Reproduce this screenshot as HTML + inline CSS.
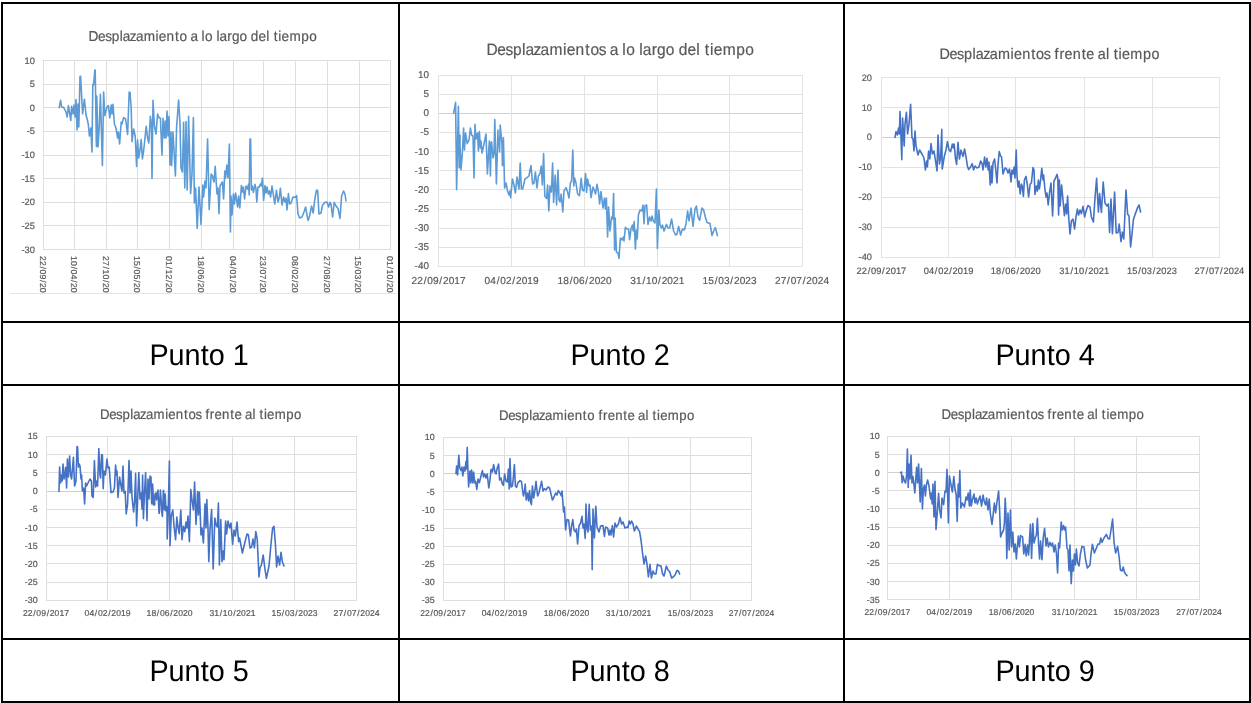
<!DOCTYPE html>
<html><head><meta charset="utf-8"><title>Desplazamientos</title>
<style>
html,body{margin:0;padding:0;background:#fff;}
body{width:1251px;height:703px;overflow:hidden;font-family:"Liberation Sans",sans-serif;}
svg{display:block;font-family:"Liberation Sans",sans-serif;text-rendering:geometricPrecision;}
.t{fill:#595959;stroke:#595959;stroke-width:0.2px;}
</style></head><body>
<svg width="1251" height="703" viewBox="0 0 1251 703">
<rect width="1251" height="703" fill="#fff"/>
<defs><clipPath id="c1"><rect x="4" y="4" width="393" height="289"/></clipPath><filter id="bl" filterUnits="userSpaceOnUse" x="0" y="0" width="1251" height="703"><feGaussianBlur stdDeviation="0.1"/></filter></defs>
<g filter="url(#bl)">
<g fill="none" stroke-width="1"><path d="M43.0 60.5H391.0" stroke="#DEDEDE"/><path d="M43.0 84.5H391.0" stroke="#DEDEDE"/><path d="M43.0 107.5H391.0" stroke="#D0DFF1"/><path d="M43.0 131.5H391.0" stroke="#DEDEDE"/><path d="M43.0 155.5H391.0" stroke="#DEDEDE"/><path d="M43.0 178.5H391.0" stroke="#DEDEDE"/><path d="M43.0 202.5H391.0" stroke="#DEDEDE"/><path d="M43.0 225.5H391.0" stroke="#DEDEDE"/><path d="M43.0 249.5H391.0" stroke="#DEDEDE"/><path d="M43.5 60.0V250.0" stroke="#DEDEDE"/><path d="M74.5 60.0V250.0" stroke="#DEDEDE"/><path d="M106.5 60.0V250.0" stroke="#DEDEDE"/><path d="M137.5 60.0V250.0" stroke="#DEDEDE"/><path d="M169.5 60.0V250.0" stroke="#DEDEDE"/><path d="M201.5 60.0V250.0" stroke="#DEDEDE"/><path d="M233.5 60.0V250.0" stroke="#DEDEDE"/><path d="M263.5 60.0V250.0" stroke="#DEDEDE"/><path d="M295.5 60.0V250.0" stroke="#DEDEDE"/><path d="M327.5 60.0V250.0" stroke="#DEDEDE"/><path d="M359.5 60.0V250.0" stroke="#DEDEDE"/><path d="M390.5 60.0V250.0" stroke="#DEDEDE"/></g>
<g class="t"><text transform="translate(0 63.60) scale(1 1.0)" x="24.57 29.81" y="0" font-size="9.30">10</text><text transform="translate(0 87.22) scale(1 1.0)" x="29.81" y="0" font-size="9.30">5</text><text transform="translate(0 110.84) scale(1 1.0)" x="29.81" y="0" font-size="9.30">0</text><text transform="translate(0 134.46) scale(1 1.0)" x="26.64 29.81" y="0" font-size="9.30">-5</text><text transform="translate(0 158.08) scale(1 1.0)" x="21.41 24.57 29.81" y="0" font-size="9.30">-10</text><text transform="translate(0 181.70) scale(1 1.0)" x="21.41 24.57 29.81" y="0" font-size="9.30">-15</text><text transform="translate(0 205.32) scale(1 1.0)" x="21.41 24.57 29.81" y="0" font-size="9.30">-20</text><text transform="translate(0 228.94) scale(1 1.0)" x="21.41 24.57 29.81" y="0" font-size="9.30">-25</text><text transform="translate(0 252.56) scale(1 1.0)" x="21.41 24.57 29.81" y="0" font-size="9.30">-30</text></g>
<g class="t" clip-path="url(#c1)"><g transform="translate(39.9 256.1) rotate(90)"><text transform="translate(0 0.00) scale(1 1.0)" x="0.03 4.90 10.39 13.47 18.34 23.83 26.91 31.78 36.65 41.51" y="0" font-size="8.64">22/09/2017</text></g><g transform="translate(71.1 256.1) rotate(90)"><text transform="translate(0 0.00) scale(1 1.0)" x="0.03 4.90 10.39 13.47 18.34 23.83 26.91 31.78 36.65 41.51" y="0" font-size="8.64">10/04/2018</text></g><g transform="translate(102.7 256.1) rotate(90)"><text transform="translate(0 0.00) scale(1 1.0)" x="0.03 4.90 10.39 13.47 18.34 23.83 26.91 31.78 36.65 41.51" y="0" font-size="8.64">27/10/2018</text></g><g transform="translate(134.1 256.1) rotate(90)"><text transform="translate(0 0.00) scale(1 1.0)" x="0.03 4.90 10.39 13.47 18.34 23.83 26.91 31.78 36.65 41.51" y="0" font-size="8.64">15/05/2019</text></g><g transform="translate(165.9 256.1) rotate(90)"><text transform="translate(0 0.00) scale(1 1.0)" x="0.03 4.90 10.39 13.47 18.34 23.83 26.91 31.78 36.65 41.51" y="0" font-size="8.64">01/12/2019</text></g><g transform="translate(197.7 256.1) rotate(90)"><text transform="translate(0 0.00) scale(1 1.0)" x="0.03 4.90 10.39 13.47 18.34 23.83 26.91 31.78 36.65 41.51" y="0" font-size="8.64">18/06/2020</text></g><g transform="translate(229.8 256.1) rotate(90)"><text transform="translate(0 0.00) scale(1 1.0)" x="0.03 4.90 10.39 13.47 18.34 23.83 26.91 31.78 36.65 41.51" y="0" font-size="8.64">04/01/2021</text></g><g transform="translate(260.0 256.1) rotate(90)"><text transform="translate(0 0.00) scale(1 1.0)" x="0.03 4.90 10.39 13.47 18.34 23.83 26.91 31.78 36.65 41.51" y="0" font-size="8.64">23/07/2021</text></g><g transform="translate(291.9 256.1) rotate(90)"><text transform="translate(0 0.00) scale(1 1.0)" x="0.03 4.90 10.39 13.47 18.34 23.83 26.91 31.78 36.65 41.51" y="0" font-size="8.64">08/02/2022</text></g><g transform="translate(323.7 256.1) rotate(90)"><text transform="translate(0 0.00) scale(1 1.0)" x="0.03 4.90 10.39 13.47 18.34 23.83 26.91 31.78 36.65 41.51" y="0" font-size="8.64">27/08/2022</text></g><g transform="translate(355.4 256.1) rotate(90)"><text transform="translate(0 0.00) scale(1 1.0)" x="0.03 4.90 10.39 13.47 18.34 23.83 26.91 31.78 36.65 41.51" y="0" font-size="8.64">15/03/2023</text></g><g transform="translate(386.9 256.1) rotate(90)"><text transform="translate(0 0.00) scale(1 1.0)" x="0.03 4.90 10.39 13.47 18.34 23.83 26.91 31.78 36.65 41.51" y="0" font-size="8.64">01/10/2023</text></g></g>
<path d="M10.2 293.5H396.7" stroke="#DEDEDE" stroke-width="0.8" fill="none"/>
<g class="t"><text transform="translate(0 41.00) scale(1 1.06)" x="88.53 98.06 105.16 111.69 119.66 122.73 129.72 135.94 143.71 155.62 158.84 166.57 174.95 179.57 187.15 190.58 197.80 201.61 205.05 212.63 216.45 219.52 227.29 231.97 239.51 247.09 250.87 258.59 266.35 269.41 273.65 278.28 281.50 289.42 301.30 309.24" y="0" font-size="13.59">Desplazamiento a lo largo del tiempo</text></g>
<path d="M59.2 107.6 60.6 100.4 61.6 107.0 63.6 107.4 66.0 112.0 67.2 117.0 68.4 105.6 70.8 120.4 71.6 106.4 73.2 114.0 74.0 105.0 75.2 117.0 76.0 99.6 77.0 130.0 78.0 104.0 78.8 127.0 80.0 76.4 80.6 76.4 82.6 114.0 84.4 99.2 86.0 115.0 87.4 120.0 88.4 125.0 89.4 136.0 90.8 128.0 92.0 152.0 92.0 152.0 92.8 84.4 93.6 85.0 94.8 70.0 95.2 70.0 96.4 146.4 96.8 96.0 98.0 147.0 99.2 128.0 100.4 94.4 102.4 165.6 103.6 92.0 104.8 115.6 107.0 107.0 108.4 105.6 109.8 118.0 111.2 105.0 112.0 114.0 113.0 104.4 114.4 124.0 116.0 128.0 117.6 138.0 118.4 132.0 119.6 144.0 121.2 122.0 122.0 124.0 123.6 117.6 125.6 119.0 127.6 134.4 129.2 92.0 130.0 92.4 131.2 108.0 132.0 141.6 133.6 129.0 135.2 136.0 136.6 166.4 137.6 140.0 138.6 158.0 140.0 150.0 141.2 139.6 142.4 159.0 143.6 151.0 144.8 140.0 146.2 126.4 147.6 138.0 148.8 143.0 150.4 116.4 151.4 124.0 152.0 178.4 153.0 100.4 154.4 126.0 156.0 134.0 157.6 114.0 159.2 118.0 160.4 118.0 162.0 155.0 163.0 118.4 164.4 138.0 165.2 121.0 166.0 138.0 167.0 111.0 168.0 136.0 169.0 116.4 170.0 165.0 171.0 132.0 171.6 165.6 173.0 132.0 175.4 176.0 176.6 127.0 178.6 100.0 180.0 124.0 181.0 168.0 182.4 172.0 183.6 122.4 184.8 188.0 186.0 121.6 187.2 190.0 188.6 116.4 190.6 193.6 192.0 174.0 193.4 117.6 194.4 203.0 195.6 188.0 197.2 228.4 199.0 187.0 201.0 224.4 202.8 185.0 203.6 197.0 205.0 181.0 206.0 188.0 207.6 139.0 209.2 209.6 211.2 174.0 212.4 176.0 214.0 182.0 215.2 166.4 217.0 194.0 218.0 188.0 219.0 213.6 220.0 186.0 222.4 182.0 223.6 199.0 224.8 171.0 225.6 178.0 226.8 165.0 228.0 178.0 229.4 144.0 230.4 232.0 231.0 196.0 232.0 215.0 233.4 194.0 234.4 204.0 235.6 193.0 237.6 207.0 238.6 196.0 239.8 208.0 241.4 185.6 242.6 192.0 243.4 187.0 244.6 199.0 246.0 186.0 247.6 189.0 248.6 184.0 249.2 195.0 250.0 139.0 250.6 139.0 251.4 190.0 252.4 186.0 253.4 192.4 255.0 184.4 256.0 189.0 256.8 202.0 258.0 187.0 259.4 187.0 260.4 184.0 261.4 186.0 262.4 178.0 263.6 200.4 265.0 185.6 266.0 193.0 267.0 187.0 268.4 194.0 269.4 191.0 270.6 197.0 272.0 186.0 273.6 196.4 274.8 204.0 276.4 190.4 278.0 202.0 279.2 198.0 280.4 188.4 282.0 205.0 283.6 197.0 285.0 202.0 286.0 198.0 287.0 210.0 288.4 193.6 289.6 204.0 291.0 203.0 293.0 197.0 295.0 197.6 296.6 195.6 298.0 214.0 299.6 218.0 302.0 217.0 304.0 212.0 305.6 207.0 308.0 220.4 309.6 216.0 311.6 206.0 313.2 213.0 315.0 198.0 316.4 190.4 317.6 190.4 319.0 214.0 321.0 213.0 322.6 205.0 325.0 202.4 327.0 202.0 328.6 207.0 330.0 202.4 331.0 204.0 332.6 217.0 334.2 202.4 336.0 206.0 338.0 208.4 340.0 218.4 341.6 196.0 343.6 191.0 345.0 194.0 346.0 201.0" fill="none" stroke="#5B9BD5" stroke-width="1.6" stroke-linejoin="round" stroke-linecap="round"/>
<g fill="none" stroke-width="1"><path d="M438.0 75.5H803.0" stroke="#E3E3E3"/><path d="M438.0 94.5H803.0" stroke="#E3E3E3"/><path d="M438.0 113.5H803.0" stroke="#D0D0D0"/><path d="M438.0 132.5H803.0" stroke="#E3E3E3"/><path d="M438.0 151.5H803.0" stroke="#E3E3E3"/><path d="M438.0 170.5H803.0" stroke="#E3E3E3"/><path d="M438.0 189.5H803.0" stroke="#E3E3E3"/><path d="M438.0 209.5H803.0" stroke="#E3E3E3"/><path d="M438.0 228.5H803.0" stroke="#E3E3E3"/><path d="M438.0 247.5H803.0" stroke="#E3E3E3"/><path d="M438.0 266.5H803.0" stroke="#E3E3E3"/><path d="M438.5 75.0V267.0" stroke="#E3E3E3"/><path d="M511.5 75.0V267.0" stroke="#E3E3E3"/><path d="M584.5 75.0V267.0" stroke="#E3E3E3"/><path d="M657.5 75.0V267.0" stroke="#E3E3E3"/><path d="M729.5 75.0V267.0" stroke="#E3E3E3"/><path d="M802.5 75.0V267.0" stroke="#E3E3E3"/></g>
<g class="t"><text transform="translate(0 78.10) scale(1 1.0)" x="417.92 423.50" y="0" font-size="9.90">10</text><text transform="translate(0 97.23) scale(1 1.0)" x="423.50" y="0" font-size="9.90">5</text><text transform="translate(0 116.36) scale(1 1.0)" x="423.50" y="0" font-size="9.90">0</text><text transform="translate(0 135.49) scale(1 1.0)" x="420.13 423.50" y="0" font-size="9.90">-5</text><text transform="translate(0 154.62) scale(1 1.0)" x="414.55 417.92 423.50" y="0" font-size="9.90">-10</text><text transform="translate(0 173.75) scale(1 1.0)" x="414.55 417.92 423.50" y="0" font-size="9.90">-15</text><text transform="translate(0 192.88) scale(1 1.0)" x="414.55 417.92 423.50" y="0" font-size="9.90">-20</text><text transform="translate(0 212.01) scale(1 1.0)" x="414.55 417.92 423.50" y="0" font-size="9.90">-25</text><text transform="translate(0 231.14) scale(1 1.0)" x="414.55 417.92 423.50" y="0" font-size="9.90">-30</text><text transform="translate(0 250.27) scale(1 1.0)" x="414.55 417.92 423.50" y="0" font-size="9.90">-35</text><text transform="translate(0 269.40) scale(1 1.0)" x="414.55 417.92 423.50" y="0" font-size="9.90">-40</text></g>
<g class="t"><text transform="translate(0 284.40) scale(1 1.0)" x="411.59 417.27 423.68 427.27 432.96 439.36 442.96 448.64 454.32 460.00" y="0" font-size="10.08">22/09/2017</text><text transform="translate(0 284.40) scale(1 1.0)" x="484.59 490.27 496.68 500.27 505.96 512.36 515.96 521.64 527.32 533.00" y="0" font-size="10.08">04/02/2019</text><text transform="translate(0 284.40) scale(1 1.0)" x="557.59 563.27 569.68 573.27 578.96 585.36 588.96 594.64 600.32 606.00" y="0" font-size="10.08">18/06/2020</text><text transform="translate(0 284.40) scale(1 1.0)" x="630.29 635.97 642.38 645.97 651.66 658.06 661.66 667.34 673.02 678.70" y="0" font-size="10.08">31/10/2021</text><text transform="translate(0 284.40) scale(1 1.0)" x="702.59 708.27 714.68 718.27 723.96 730.36 733.96 739.64 745.32 751.00" y="0" font-size="10.08">15/03/2023</text><text transform="translate(0 284.40) scale(1 1.0)" x="774.99 780.67 787.08 790.67 796.36 802.76 806.36 812.04 817.72 823.40" y="0" font-size="10.08">27/07/2024</text></g>
<g class="t"><text transform="translate(0 54.70) scale(1 1.06)" x="486.42 497.31 505.42 512.88 521.98 525.50 533.48 540.58 549.46 563.07 566.75 575.58 585.16 590.43 598.79 605.84 609.76 618.00 622.36 626.29 634.95 639.31 642.82 651.70 657.04 665.65 674.31 678.63 687.46 696.32 699.82 704.66 709.95 713.63 722.67 736.25 745.32" y="0" font-size="15.53">Desplazamientos a lo largo del tiempo</text></g>
<path d="M453.6 113.4 455.6 102.4 456.6 189.6 457.6 144.0 458.4 106.4 459.2 168.0 460.0 135.0 460.0 146.0 461.0 170.0 462.4 152.0 463.6 128.0 464.4 150.0 465.6 133.0 467.2 143.6 469.0 140.0 470.4 128.0 471.6 135.0 473.0 136.0 474.0 178.0 475.0 124.4 476.0 139.0 477.6 133.0 478.4 151.0 479.4 131.6 480.4 148.0 481.0 141.0 482.0 153.0 483.6 146.0 486.0 134.0 487.4 174.0 489.0 146.0 489.4 141.0 490.4 176.0 491.2 142.0 491.6 142.0 493.0 158.0 494.0 154.0 494.8 119.6 496.4 184.0 498.0 130.0 498.0 144.0 498.8 138.0 499.6 152.0 500.2 125.0 502.0 144.0 502.4 165.6 503.4 137.6 504.6 188.0 506.0 183.0 507.6 191.0 509.0 195.0 510.0 191.0 510.6 197.6 512.4 179.0 514.0 185.0 515.4 193.0 517.0 177.0 518.0 183.0 519.0 189.0 520.2 163.0 521.4 189.0 522.6 189.0 525.0 179.0 527.0 177.6 529.0 176.0 530.0 170.0 531.0 165.6 532.6 184.0 534.0 183.0 535.4 172.0 537.0 188.0 538.4 176.0 540.0 173.6 541.2 166.0 542.4 185.0 543.6 153.6 544.8 196.0 546.6 198.4 547.6 185.0 548.8 211.0 550.0 186.0 551.4 192.0 552.6 163.0 553.6 202.4 555.2 175.0 556.6 205.0 558.0 170.0 559.0 200.0 560.0 202.0 561.2 194.0 562.8 212.0 564.0 191.0 566.0 187.6 567.6 192.0 569.0 198.0 570.4 183.0 571.6 181.0 572.8 150.0 573.8 186.0 574.6 178.0 576.0 183.0 577.6 194.0 579.4 195.6 581.2 178.4 582.4 190.0 584.0 191.0 585.6 173.6 586.6 192.4 587.6 179.0 589.0 186.0 590.0 185.0 591.0 197.6 593.0 187.0 595.6 194.0 597.0 184.4 598.6 193.0 599.6 204.0 601.0 191.6 603.0 208.0 604.4 198.0 605.4 209.0 606.4 198.0 607.6 237.0 608.6 207.0 610.0 231.0 611.6 217.0 612.6 219.0 613.6 193.6 614.6 250.0 615.2 218.0 616.4 252.0 618.0 253.0 619.0 258.4 620.4 238.0 622.0 240.0 623.4 237.0 624.0 241.0 625.4 227.4 627.0 229.0 628.6 229.0 629.6 239.6 631.0 229.0 632.4 225.0 633.2 231.0 634.2 221.6 635.4 249.0 636.4 230.0 637.2 239.0 638.4 215.0 640.0 210.0 642.0 211.0 643.0 205.0 644.0 223.6 645.0 206.0 646.6 205.0 648.0 224.4 649.6 217.0 651.0 221.0 652.0 216.0 653.4 221.0 655.0 223.0 656.4 189.0 657.4 248.4 658.8 210.0 660.0 225.0 661.4 228.0 662.4 225.0 664.0 231.0 666.4 224.4 668.0 228.0 669.6 228.0 671.6 219.0 673.6 231.0 675.6 235.0 677.0 234.0 678.6 226.4 680.6 235.0 682.4 229.0 684.4 230.0 686.0 224.0 687.6 211.0 689.0 221.0 691.0 208.0 693.0 226.4 695.0 209.0 696.4 206.0 698.0 217.0 699.6 220.4 702.0 208.0 703.6 210.0 705.6 218.0 707.0 222.4 710.0 223.6 712.0 235.6 713.6 231.0 715.4 227.6 717.4 235.6" fill="none" stroke="#5B9BD5" stroke-width="1.6" stroke-linejoin="round" stroke-linecap="round"/>
<g fill="none" stroke-width="1"><path d="M881.0 77.5H1220.0" stroke="#E3E3E3"/><path d="M881.0 107.5H1220.0" stroke="#E3E3E3"/><path d="M881.0 137.5H1220.0" stroke="#D0D0D0"/><path d="M881.0 167.5H1220.0" stroke="#E3E3E3"/><path d="M881.0 197.5H1220.0" stroke="#E3E3E3"/><path d="M881.0 227.5H1220.0" stroke="#E3E3E3"/><path d="M881.0 257.5H1220.0" stroke="#E3E3E3"/><path d="M881.5 77.0V258.0" stroke="#E3E3E3"/><path d="M948.5 77.0V258.0" stroke="#E3E3E3"/><path d="M1015.5 77.0V258.0" stroke="#E3E3E3"/><path d="M1084.5 77.0V258.0" stroke="#E3E3E3"/><path d="M1152.5 77.0V258.0" stroke="#E3E3E3"/><path d="M1219.5 77.0V258.0" stroke="#E3E3E3"/></g>
<g class="t"><text transform="translate(0 80.60) scale(1 1.0)" x="861.68 866.86" y="0" font-size="9.20">20</text><text transform="translate(0 110.53) scale(1 1.0)" x="861.68 866.86" y="0" font-size="9.20">10</text><text transform="translate(0 140.46) scale(1 1.0)" x="866.86" y="0" font-size="9.20">0</text><text transform="translate(0 170.39) scale(1 1.0)" x="858.55 861.68 866.86" y="0" font-size="9.20">-10</text><text transform="translate(0 200.32) scale(1 1.0)" x="858.55 861.68 866.86" y="0" font-size="9.20">-20</text><text transform="translate(0 230.25) scale(1 1.0)" x="858.55 861.68 866.86" y="0" font-size="9.20">-30</text><text transform="translate(0 260.18) scale(1 1.0)" x="858.55 861.68 866.86" y="0" font-size="9.20">-40</text></g>
<g class="t"><text transform="translate(0 273.60) scale(1 1.0)" x="856.52 861.75 867.65 870.97 876.20 882.10 885.42 890.65 895.88 901.11" y="0" font-size="9.29">22/09/2017</text><text transform="translate(0 273.60) scale(1 1.0)" x="923.72 928.95 934.85 938.17 943.40 949.30 952.62 957.85 963.08 968.31" y="0" font-size="9.29">04/02/2019</text><text transform="translate(0 273.60) scale(1 1.0)" x="990.82 996.05 1001.95 1005.27 1010.50 1016.40 1019.72 1024.95 1030.18 1035.41" y="0" font-size="9.29">18/06/2020</text><text transform="translate(0 273.60) scale(1 1.0)" x="1059.32 1064.55 1070.45 1073.77 1079.00 1084.90 1088.22 1093.45 1098.68 1103.91" y="0" font-size="9.29">31/10/2021</text><text transform="translate(0 273.60) scale(1 1.0)" x="1127.12 1132.35 1138.25 1141.57 1146.80 1152.70 1156.02 1161.25 1166.48 1171.71" y="0" font-size="9.29">15/03/2023</text><text transform="translate(0 273.60) scale(1 1.0)" x="1194.52 1199.75 1205.65 1208.97 1214.20 1220.10 1223.42 1228.65 1233.88 1239.11" y="0" font-size="9.29">27/07/2024</text></g>
<g class="t"><text transform="translate(0 59.40) scale(1 1.06)" x="939.44 949.55 957.08 964.02 972.46 975.73 983.14 989.73 997.98 1010.62 1014.04 1022.23 1031.13 1036.03 1043.79 1050.34 1054.59 1059.43 1064.61 1072.81 1081.70 1086.37 1094.18 1097.82 1105.90 1109.15 1113.64 1118.56 1121.98 1130.37 1142.98 1151.41" y="0" font-size="14.42">Desplazamientos frente al tiempo</text></g>
<path d="M895.0 137.4 896.0 131.6 897.4 135.0 898.6 128.0 899.4 134.0 900.0 111.6 901.8 159.6 902.6 118.0 904.2 146.0 905.0 124.0 906.4 112.4 907.6 134.0 909.0 124.0 910.6 104.4 912.0 138.0 913.0 139.0 914.0 151.0 915.0 131.0 916.0 146.0 918.0 155.0 919.6 150.0 922.0 154.0 924.0 158.0 925.4 170.0 926.6 161.0 927.4 161.0 927.4 167.0 928.6 151.0 929.8 159.0 931.0 143.6 932.4 154.0 934.0 151.0 935.4 160.0 937.0 171.0 938.0 135.0 939.4 164.0 940.6 158.0 941.8 129.4 942.2 169.0 944.4 156.0 946.0 150.0 947.4 141.6 949.0 150.0 950.6 151.6 952.4 144.0 953.4 148.0 954.2 144.0 955.4 158.0 956.6 164.4 958.0 142.4 959.4 159.0 961.0 150.0 963.0 156.4 964.6 149.0 966.2 158.0 967.4 166.0 968.6 169.6 970.6 167.0 972.2 163.6 973.6 170.0 975.0 166.0 977.0 168.0 979.0 167.0 980.6 161.0 982.2 164.0 983.0 170.0 984.6 157.0 985.8 167.0 987.0 158.4 988.2 170.0 989.0 162.0 990.2 185.0 991.4 166.0 992.0 183.0 993.0 163.0 994.6 159.0 995.8 170.0 997.0 183.0 998.0 165.0 999.2 151.6 1000.6 156.0 1001.6 157.0 1003.0 174.0 1005.0 168.0 1006.6 169.0 1008.0 173.0 1009.4 169.0 1010.2 174.0 1011.0 182.0 1012.0 170.0 1013.0 174.0 1014.2 167.0 1015.0 178.0 1016.2 150.0 1017.0 176.0 1018.0 187.0 1019.0 181.0 1020.2 194.0 1021.4 184.0 1022.2 186.0 1023.4 196.4 1024.4 180.0 1026.0 176.4 1027.4 185.0 1028.6 197.0 1030.2 184.0 1031.4 183.0 1033.0 167.6 1034.0 170.0 1035.0 194.4 1036.4 186.0 1037.4 191.0 1038.4 180.0 1039.4 189.0 1040.6 180.0 1041.8 168.4 1043.0 180.0 1043.6 175.0 1045.0 190.0 1046.0 197.0 1047.0 193.0 1048.2 205.0 1049.6 192.0 1051.0 183.0 1052.6 216.0 1054.0 181.0 1055.6 178.0 1057.0 174.4 1057.8 178.0 1058.6 215.0 1059.4 180.0 1060.2 206.0 1061.6 185.0 1063.0 200.0 1064.4 215.6 1065.6 204.0 1066.6 214.0 1067.6 196.0 1068.6 216.0 1070.0 234.0 1071.4 221.0 1073.0 219.0 1074.6 229.0 1076.0 217.0 1077.4 209.0 1078.6 215.0 1080.0 210.0 1081.4 213.6 1083.0 206.4 1084.6 217.0 1086.0 211.0 1088.0 205.6 1090.0 207.0 1091.4 217.0 1093.4 222.0 1095.0 198.0 1096.6 178.4 1098.4 212.0 1099.6 193.6 1101.4 212.4 1103.2 182.0 1105.0 203.0 1107.0 206.0 1108.4 204.0 1109.6 232.4 1111.0 199.0 1112.4 233.6 1114.6 192.0 1116.2 233.0 1118.0 232.4 1119.2 224.0 1121.0 241.6 1122.4 232.0 1123.8 239.0 1126.0 190.0 1127.6 214.0 1129.0 216.0 1130.6 247.0 1132.0 234.0 1133.4 219.6 1135.4 213.6 1137.6 207.6 1139.0 205.0 1140.6 212.0" fill="none" stroke="#4472C4" stroke-width="1.6" stroke-linejoin="round" stroke-linecap="round"/>
<g fill="none" stroke-width="1"><path d="M46.0 436.5H357.0" stroke="#DEDEDE"/><path d="M46.0 454.5H357.0" stroke="#DEDEDE"/><path d="M46.0 472.5H357.0" stroke="#DEDEDE"/><path d="M46.0 491.5H357.0" stroke="#D0D0D0"/><path d="M46.0 509.5H357.0" stroke="#DEDEDE"/><path d="M46.0 527.5H357.0" stroke="#DEDEDE"/><path d="M46.0 545.5H357.0" stroke="#DEDEDE"/><path d="M46.0 563.5H357.0" stroke="#DEDEDE"/><path d="M46.0 582.5H357.0" stroke="#DEDEDE"/><path d="M46.0 600.5H357.0" stroke="#DEDEDE"/><path d="M46.5 436.0V601.0" stroke="#DEDEDE"/><path d="M107.5 436.0V601.0" stroke="#DEDEDE"/><path d="M169.5 436.0V601.0" stroke="#DEDEDE"/><path d="M232.5 436.0V601.0" stroke="#DEDEDE"/><path d="M294.5 436.0V601.0" stroke="#DEDEDE"/><path d="M356.5 436.0V601.0" stroke="#DEDEDE"/></g>
<g class="t"><text transform="translate(0 439.40) scale(1 1.0)" x="27.80 32.81" y="0" font-size="8.90">15</text><text transform="translate(0 457.62) scale(1 1.0)" x="27.80 32.81" y="0" font-size="8.90">10</text><text transform="translate(0 475.84) scale(1 1.0)" x="32.81" y="0" font-size="8.90">5</text><text transform="translate(0 494.06) scale(1 1.0)" x="32.81" y="0" font-size="8.90">0</text><text transform="translate(0 512.28) scale(1 1.0)" x="29.79 32.81" y="0" font-size="8.90">-5</text><text transform="translate(0 530.50) scale(1 1.0)" x="24.77 27.80 32.81" y="0" font-size="8.90">-10</text><text transform="translate(0 548.72) scale(1 1.0)" x="24.77 27.80 32.81" y="0" font-size="8.90">-15</text><text transform="translate(0 566.94) scale(1 1.0)" x="24.77 27.80 32.81" y="0" font-size="8.90">-20</text><text transform="translate(0 585.16) scale(1 1.0)" x="24.77 27.80 32.81" y="0" font-size="8.90">-25</text><text transform="translate(0 603.38) scale(1 1.0)" x="24.77 27.80 32.81" y="0" font-size="8.90">-30</text></g>
<g class="t"><text transform="translate(0 616.00) scale(1 1.0)" x="22.95 27.80 33.26 36.34 41.18 46.65 49.72 54.57 59.42 64.27" y="0" font-size="8.61">22/09/2017</text><text transform="translate(0 616.00) scale(1 1.0)" x="84.55 89.40 94.86 97.94 102.78 108.25 111.32 116.17 121.02 125.87" y="0" font-size="8.61">04/02/2019</text><text transform="translate(0 616.00) scale(1 1.0)" x="146.55 151.40 156.86 159.94 164.78 170.25 173.32 178.17 183.02 187.87" y="0" font-size="8.61">18/06/2020</text><text transform="translate(0 616.00) scale(1 1.0)" x="209.45 214.30 219.76 222.84 227.68 233.15 236.22 241.07 245.92 250.77" y="0" font-size="8.61">31/10/2021</text><text transform="translate(0 616.00) scale(1 1.0)" x="271.55 276.40 281.86 284.94 289.78 295.25 298.32 303.17 308.02 312.87" y="0" font-size="8.61">15/03/2023</text><text transform="translate(0 616.00) scale(1 1.0)" x="333.55 338.40 343.86 346.94 351.78 357.25 360.32 365.17 370.02 374.87" y="0" font-size="8.61">27/07/2024</text></g>
<g class="t"><text transform="translate(0 419.40) scale(1 1.06)" x="99.97 109.23 116.12 122.47 130.21 133.20 139.98 146.02 153.57 165.14 168.27 175.78 183.92 188.41 195.51 201.51 205.40 209.84 214.58 222.08 230.23 234.50 241.65 244.99 252.38 255.35 259.47 263.98 267.10 274.79 286.33 294.05" y="0" font-size="13.20">Desplazamientos frente al tiempo</text></g>
<path d="M59.0 491.4 59.6 467.0 60.6 483.0 61.6 475.0 62.2 481.0 63.0 464.0 64.0 479.0 65.0 474.0 65.6 467.4 66.6 488.0 67.4 459.0 68.4 477.0 69.6 456.0 70.6 475.0 71.6 479.0 73.4 457.4 74.6 486.0 76.0 481.0 77.0 446.6 77.6 447.0 78.4 467.0 79.2 464.0 80.0 466.0 81.0 479.0 81.6 475.0 82.4 491.0 83.6 488.0 84.6 504.0 85.6 483.0 86.6 486.0 88.0 483.0 90.0 479.0 91.4 481.0 92.0 496.0 93.2 497.4 94.4 460.6 95.6 487.0 96.8 481.0 97.6 486.0 98.8 448.6 100.0 475.0 100.6 478.0 101.6 454.6 102.4 455.0 103.2 488.6 104.0 471.0 105.4 475.0 107.0 459.0 108.0 468.0 109.2 467.0 111.0 492.6 113.0 492.0 114.4 488.0 115.6 465.0 116.4 475.0 117.0 471.0 118.0 497.4 119.6 477.0 121.0 486.0 122.0 491.0 123.0 466.0 124.0 493.0 125.2 491.4 126.2 514.0 127.6 504.0 129.0 460.6 130.0 493.0 131.0 471.0 132.0 497.0 133.6 512.0 134.6 501.0 135.6 473.4 136.6 526.0 138.0 491.0 138.8 472.6 140.0 499.0 141.2 493.0 142.0 509.0 142.6 475.0 143.4 518.6 144.4 495.0 145.6 472.6 147.0 520.6 148.0 479.0 149.0 499.0 150.0 476.0 151.0 477.0 151.6 503.0 152.0 504.0 152.6 484.0 153.6 503.0 153.6 505.0 154.6 505.0 155.0 494.0 156.0 493.0 156.6 500.0 157.0 495.0 158.0 490.0 158.0 491.0 159.0 513.0 159.2 513.4 160.4 490.6 160.4 490.0 161.4 504.0 161.6 511.0 162.4 516.0 162.4 516.4 163.4 490.4 163.6 490.6 164.4 509.0 164.4 510.0 165.2 494.0 165.2 494.0 166.0 511.0 166.0 506.0 167.0 507.0 167.2 539.0 168.0 520.0 169.4 461.0 170.0 545.6 171.2 516.0 172.8 510.0 174.0 526.0 175.6 539.6 176.8 517.0 178.0 527.0 179.2 533.6 180.8 510.0 182.0 539.6 183.4 526.4 184.8 531.6 186.0 522.0 187.0 528.0 188.0 516.0 189.4 541.6 190.8 489.6 192.0 500.0 193.4 510.0 194.6 482.0 196.0 524.4 197.6 491.6 198.4 515.0 199.4 492.0 201.0 535.0 202.0 528.0 203.4 543.0 205.0 504.0 206.0 528.0 206.8 499.6 208.0 528.0 208.8 561.6 210.0 530.0 211.6 509.6 213.2 569.0 214.8 518.0 216.0 525.0 217.4 527.0 218.4 503.0 219.4 565.0 220.8 519.6 222.0 561.6 223.2 551.0 224.0 559.6 225.6 521.0 226.6 534.0 228.0 521.0 229.6 528.0 231.0 523.0 232.6 544.4 234.0 530.0 235.4 536.0 237.0 522.0 238.6 541.6 239.6 538.0 242.4 553.0 245.0 542.0 247.0 534.0 248.4 535.0 250.0 548.0 251.6 547.0 253.0 539.0 254.4 548.0 255.8 531.6 257.2 539.0 259.0 577.0 260.0 568.0 261.4 565.0 263.2 555.0 264.8 568.0 266.4 578.4 269.0 566.0 271.0 544.0 272.6 528.0 274.0 526.4 275.4 544.0 276.6 567.0 278.0 556.0 279.6 565.0 281.0 552.4 282.4 562.0 284.0 566.0" fill="none" stroke="#4472C4" stroke-width="1.6" stroke-linejoin="round" stroke-linecap="round"/>
<g fill="none" stroke-width="1"><path d="M443.0 437.5H752.0" stroke="#DEDEDE"/><path d="M443.0 455.5H752.0" stroke="#DEDEDE"/><path d="M443.0 473.5H752.0" stroke="#D0D0D0"/><path d="M443.0 491.5H752.0" stroke="#DEDEDE"/><path d="M443.0 509.5H752.0" stroke="#DEDEDE"/><path d="M443.0 528.5H752.0" stroke="#DEDEDE"/><path d="M443.0 546.5H752.0" stroke="#DEDEDE"/><path d="M443.0 564.5H752.0" stroke="#DEDEDE"/><path d="M443.0 582.5H752.0" stroke="#DEDEDE"/><path d="M443.0 600.5H752.0" stroke="#DEDEDE"/><path d="M443.5 437.0V601.0" stroke="#DEDEDE"/><path d="M504.5 437.0V601.0" stroke="#DEDEDE"/><path d="M566.5 437.0V601.0" stroke="#DEDEDE"/><path d="M628.5 437.0V601.0" stroke="#DEDEDE"/><path d="M690.5 437.0V601.0" stroke="#DEDEDE"/><path d="M751.5 437.0V601.0" stroke="#DEDEDE"/></g>
<g class="t"><text transform="translate(0 440.40) scale(1 1.0)" x="424.80 429.81" y="0" font-size="8.90">10</text><text transform="translate(0 458.52) scale(1 1.0)" x="429.81" y="0" font-size="8.90">5</text><text transform="translate(0 476.64) scale(1 1.0)" x="429.81" y="0" font-size="8.90">0</text><text transform="translate(0 494.76) scale(1 1.0)" x="426.79 429.81" y="0" font-size="8.90">-5</text><text transform="translate(0 512.88) scale(1 1.0)" x="421.77 424.80 429.81" y="0" font-size="8.90">-10</text><text transform="translate(0 531.00) scale(1 1.0)" x="421.77 424.80 429.81" y="0" font-size="8.90">-15</text><text transform="translate(0 549.12) scale(1 1.0)" x="421.77 424.80 429.81" y="0" font-size="8.90">-20</text><text transform="translate(0 567.24) scale(1 1.0)" x="421.77 424.80 429.81" y="0" font-size="8.90">-25</text><text transform="translate(0 585.36) scale(1 1.0)" x="421.77 424.80 429.81" y="0" font-size="8.90">-30</text><text transform="translate(0 603.48) scale(1 1.0)" x="421.77 424.80 429.81" y="0" font-size="8.90">-35</text></g>
<g class="t"><text transform="translate(0 616.00) scale(1 1.0)" x="420.25 425.04 430.43 433.46 438.25 443.64 446.67 451.46 456.24 461.02" y="0" font-size="8.49">22/09/2017</text><text transform="translate(0 616.00) scale(1 1.0)" x="481.65 486.44 491.83 494.86 499.65 505.04 508.07 512.86 517.64 522.42" y="0" font-size="8.49">04/02/2019</text><text transform="translate(0 616.00) scale(1 1.0)" x="543.65 548.44 553.83 556.86 561.65 567.04 570.07 574.86 579.64 584.42" y="0" font-size="8.49">18/06/2020</text><text transform="translate(0 616.00) scale(1 1.0)" x="605.85 610.64 616.03 619.06 623.85 629.24 632.27 637.06 641.84 646.62" y="0" font-size="8.49">31/10/2021</text><text transform="translate(0 616.00) scale(1 1.0)" x="667.65 672.44 677.83 680.86 685.65 691.04 694.07 698.86 703.64 708.42" y="0" font-size="8.49">15/03/2023</text><text transform="translate(0 616.00) scale(1 1.0)" x="728.85 733.64 739.03 742.06 746.85 752.24 755.27 760.06 764.84 769.62" y="0" font-size="8.49">27/07/2024</text></g>
<g class="t"><text transform="translate(0 420.40) scale(1 1.06)" x="498.97 508.22 515.10 521.44 529.17 532.15 538.93 544.96 552.50 564.06 567.18 574.68 582.81 587.29 594.64 598.53 602.96 607.69 615.19 623.32 627.59 634.73 638.06 645.45 648.42 652.53 657.03 660.15 667.83 679.35 687.06" y="0" font-size="13.19">Desplazamiento frente al tiempo</text></g>
<path d="M456.0 473.6 456.6 466.0 457.6 475.0 458.8 455.4 459.8 468.0 461.0 470.6 462.0 467.0 462.8 476.0 464.0 467.0 465.0 471.0 466.0 461.4 466.6 469.0 467.2 447.4 468.0 471.0 468.6 487.0 470.0 471.0 470.8 483.0 471.6 470.0 472.8 483.0 473.6 472.0 474.8 483.0 475.6 481.4 476.8 489.4 478.0 479.0 479.4 482.6 481.0 476.0 482.4 470.6 483.6 477.0 484.8 474.0 486.0 478.0 487.2 474.0 488.8 488.0 490.0 480.0 491.0 469.4 492.4 472.0 493.6 464.6 495.0 472.0 496.0 474.0 497.4 467.4 498.6 464.0 499.6 480.0 501.0 478.0 502.0 483.0 503.4 485.4 504.6 474.0 506.0 481.0 507.4 482.0 508.4 469.0 509.2 489.0 510.0 458.6 511.0 487.0 512.4 486.0 513.2 479.0 514.4 464.6 515.4 486.0 516.6 487.4 518.0 482.6 520.0 480.6 521.4 481.4 522.4 489.0 523.4 496.0 524.4 492.0 525.2 484.0 526.2 500.0 527.6 493.0 528.6 501.0 529.6 490.6 530.6 502.0 531.4 504.6 532.4 486.0 533.6 498.0 535.0 490.0 536.0 481.4 537.6 496.0 539.0 493.0 540.0 488.0 541.6 481.4 543.0 491.0 544.4 488.6 546.0 490.0 548.0 487.0 549.6 488.0 551.0 494.0 552.4 500.0 554.0 497.0 555.6 493.0 557.0 495.0 558.4 490.6 560.0 493.0 561.4 496.0 562.0 491.0 563.6 512.0 564.4 507.0 565.6 530.0 567.0 519.6 568.6 520.0 570.4 536.0 571.6 526.0 572.8 519.6 574.0 530.0 575.6 532.0 576.4 529.0 577.6 544.0 579.0 526.0 580.6 523.0 582.0 516.4 583.0 528.0 584.0 524.0 585.2 538.4 586.0 504.0 587.0 528.0 588.0 532.0 589.2 504.4 590.4 530.0 591.6 526.0 592.2 569.6 593.0 509.0 594.4 538.0 595.8 506.4 597.0 527.0 599.0 532.0 600.6 526.0 603.0 525.6 604.4 536.4 605.6 527.0 607.6 528.0 609.0 535.0 610.0 530.0 611.0 535.0 612.4 525.6 613.6 537.0 615.0 523.0 616.4 527.0 618.4 524.0 620.0 517.6 621.6 524.0 623.0 522.0 625.0 528.0 627.0 527.0 628.0 527.6 629.2 521.0 630.4 524.0 631.6 521.0 633.0 524.0 634.4 531.0 636.4 526.0 638.0 529.0 639.6 531.6 641.0 540.0 642.4 552.0 644.0 564.0 645.6 556.0 647.0 564.0 648.4 577.0 650.0 564.4 651.4 578.0 653.0 571.0 654.4 574.0 656.0 574.0 657.4 564.4 659.0 565.6 661.0 566.0 662.6 574.0 664.0 576.0 666.4 566.0 668.0 570.0 669.6 571.6 671.6 578.0 673.2 577.0 675.0 575.0 677.0 570.4 678.4 571.0 679.6 574.0" fill="none" stroke="#4472C4" stroke-width="1.6" stroke-linejoin="round" stroke-linecap="round"/>
<g fill="none" stroke-width="1"><path d="M887.0 436.5H1200.0" stroke="#DEDEDE"/><path d="M887.0 454.5H1200.0" stroke="#DEDEDE"/><path d="M887.0 472.5H1200.0" stroke="#D0D0D0"/><path d="M887.0 490.5H1200.0" stroke="#DEDEDE"/><path d="M887.0 508.5H1200.0" stroke="#DEDEDE"/><path d="M887.0 527.5H1200.0" stroke="#DEDEDE"/><path d="M887.0 545.5H1200.0" stroke="#DEDEDE"/><path d="M887.0 563.5H1200.0" stroke="#DEDEDE"/><path d="M887.0 581.5H1200.0" stroke="#DEDEDE"/><path d="M887.0 599.5H1200.0" stroke="#DEDEDE"/><path d="M887.5 436.0V600.0" stroke="#DEDEDE"/><path d="M949.5 436.0V600.0" stroke="#DEDEDE"/><path d="M1011.5 436.0V600.0" stroke="#DEDEDE"/><path d="M1074.5 436.0V600.0" stroke="#DEDEDE"/><path d="M1136.5 436.0V600.0" stroke="#DEDEDE"/><path d="M1199.5 436.0V600.0" stroke="#DEDEDE"/></g>
<g class="t"><text transform="translate(0 439.40) scale(1 1.0)" x="869.80 874.81" y="0" font-size="8.90">10</text><text transform="translate(0 457.54) scale(1 1.0)" x="874.81" y="0" font-size="8.90">5</text><text transform="translate(0 475.68) scale(1 1.0)" x="874.81" y="0" font-size="8.90">0</text><text transform="translate(0 493.82) scale(1 1.0)" x="871.79 874.81" y="0" font-size="8.90">-5</text><text transform="translate(0 511.96) scale(1 1.0)" x="866.77 869.80 874.81" y="0" font-size="8.90">-10</text><text transform="translate(0 530.10) scale(1 1.0)" x="866.77 869.80 874.81" y="0" font-size="8.90">-15</text><text transform="translate(0 548.24) scale(1 1.0)" x="866.77 869.80 874.81" y="0" font-size="8.90">-20</text><text transform="translate(0 566.38) scale(1 1.0)" x="866.77 869.80 874.81" y="0" font-size="8.90">-25</text><text transform="translate(0 584.52) scale(1 1.0)" x="866.77 869.80 874.81" y="0" font-size="8.90">-30</text><text transform="translate(0 602.66) scale(1 1.0)" x="866.77 869.80 874.81" y="0" font-size="8.90">-35</text></g>
<g class="t"><text transform="translate(0 615.00) scale(1 1.0)" x="864.55 869.36 874.78 877.82 882.63 888.04 891.09 895.89 900.70 905.50" y="0" font-size="8.53">22/09/2017</text><text transform="translate(0 615.00) scale(1 1.0)" x="926.55 931.36 936.78 939.82 944.63 950.04 953.09 957.89 962.70 967.50" y="0" font-size="8.53">04/02/2019</text><text transform="translate(0 615.00) scale(1 1.0)" x="988.65 993.46 998.88 1001.92 1006.73 1012.14 1015.19 1019.99 1024.80 1029.60" y="0" font-size="8.53">18/06/2020</text><text transform="translate(0 615.00) scale(1 1.0)" x="1051.75 1056.56 1061.98 1065.02 1069.83 1075.24 1078.29 1083.09 1087.90 1092.70" y="0" font-size="8.53">31/10/2021</text><text transform="translate(0 615.00) scale(1 1.0)" x="1113.75 1118.56 1123.98 1127.02 1131.83 1137.24 1140.29 1145.09 1149.90 1154.70" y="0" font-size="8.53">15/03/2023</text><text transform="translate(0 615.00) scale(1 1.0)" x="1176.15 1180.96 1186.38 1189.42 1194.23 1199.64 1202.69 1207.49 1212.30 1217.10" y="0" font-size="8.53">27/07/2024</text></g>
<g class="t"><text transform="translate(0 419.40) scale(1 1.06)" x="941.56 950.87 957.80 964.18 971.95 974.96 981.77 987.84 995.43 1007.06 1010.21 1017.75 1025.94 1030.45 1037.59 1043.61 1047.52 1051.98 1056.74 1064.29 1072.47 1076.77 1083.95 1087.30 1094.74 1097.73 1101.86 1106.39 1109.53 1117.26 1128.86 1136.61" y="0" font-size="13.27">Desplazamientos frente al tiempo</text></g>
<path d="M900.6 472.6 901.4 472.0 902.2 482.6 903.0 476.0 904.4 481.0 905.6 483.0 906.6 475.0 907.4 449.0 908.2 487.4 909.0 464.0 910.0 479.0 911.0 455.4 912.0 483.0 913.0 476.6 914.0 485.0 914.8 493.0 915.8 479.0 916.6 467.4 917.6 483.0 918.6 464.0 919.4 483.0 920.2 502.0 921.4 468.6 922.4 509.0 923.4 489.0 924.4 485.0 925.4 496.0 926.4 485.0 927.6 480.0 929.0 486.0 930.6 499.0 931.4 493.0 932.2 504.0 933.0 484.0 934.0 517.0 935.0 481.4 936.0 529.4 937.4 511.0 938.6 493.4 939.6 509.0 941.0 518.0 942.0 498.0 943.6 504.6 945.0 491.0 946.0 492.0 947.0 469.4 948.4 523.0 949.4 476.0 951.0 485.0 952.4 492.0 953.8 476.6 955.0 489.0 956.2 495.0 957.2 521.4 958.2 484.0 959.0 497.0 959.8 470.6 960.8 508.0 962.4 503.0 964.4 507.0 966.0 497.0 967.0 500.0 968.2 493.0 969.4 506.0 970.2 490.0 971.2 506.0 972.6 499.0 974.0 494.0 975.0 503.0 976.2 498.0 977.4 504.0 978.6 500.0 980.0 496.0 981.6 506.0 983.0 495.0 984.4 502.0 985.6 505.0 986.6 498.0 988.0 510.0 989.2 499.0 990.4 514.0 992.0 524.4 993.2 514.0 994.4 503.0 995.6 513.0 997.0 502.0 998.6 491.0 999.6 510.0 1000.6 537.0 1002.0 533.0 1003.6 530.0 1004.4 523.0 1005.2 498.4 1006.0 514.0 1006.8 558.4 1008.0 513.0 1009.2 550.0 1010.4 510.0 1011.6 547.0 1012.8 532.0 1014.0 552.0 1015.2 544.0 1016.4 559.0 1017.2 548.0 1018.4 536.0 1019.4 547.0 1020.6 535.6 1022.6 537.0 1023.8 554.0 1025.2 544.4 1026.2 556.0 1027.6 545.0 1028.6 555.0 1030.4 524.4 1031.6 558.4 1032.8 523.6 1034.0 543.0 1035.2 538.0 1036.4 535.0 1037.4 518.4 1038.6 544.0 1039.6 559.0 1040.6 541.0 1042.0 559.6 1043.2 538.0 1044.6 528.4 1046.0 546.0 1047.2 538.0 1048.4 547.0 1050.0 542.4 1051.4 546.0 1052.6 543.0 1054.0 552.0 1055.2 545.0 1056.4 553.0 1057.6 573.0 1058.6 543.0 1059.6 548.0 1061.2 522.0 1062.4 530.0 1063.6 525.6 1064.8 530.0 1065.6 527.0 1067.0 548.0 1068.0 550.0 1069.0 571.0 1070.0 545.0 1071.2 583.6 1072.4 560.0 1073.4 571.0 1074.4 554.0 1075.4 565.0 1076.4 549.0 1077.6 563.0 1079.0 566.0 1080.4 554.0 1082.0 546.4 1084.0 547.0 1085.6 560.0 1087.4 568.0 1090.0 565.0 1091.0 554.0 1092.4 544.4 1094.4 553.0 1096.0 549.0 1098.0 544.0 1099.6 544.0 1100.8 538.0 1102.0 542.4 1104.0 538.0 1106.4 534.4 1108.0 538.4 1109.6 539.0 1111.0 530.0 1112.6 519.0 1114.0 542.0 1115.6 553.0 1117.6 546.4 1119.0 556.0 1120.4 570.0 1122.0 571.0 1123.2 567.0 1124.4 572.0 1125.6 574.0 1127.0 575.6" fill="none" stroke="#4472C4" stroke-width="1.6" stroke-linejoin="round" stroke-linecap="round"/>
<text transform="translate(149.4 365) scale(1 1.035)" font-size="28.8" fill="#000">Punto 1</text>
<text transform="translate(570.4 365) scale(1 1.035)" font-size="28.8" fill="#000">Punto 2</text>
<text transform="translate(995.4 365) scale(1 1.035)" font-size="28.8" fill="#000">Punto 4</text>
<text transform="translate(149.4 681.4) scale(1 1.035)" font-size="28.8" fill="#000">Punto 5</text>
<text transform="translate(570.4 681.4) scale(1 1.035)" font-size="28.8" fill="#000">Punto 8</text>
<text transform="translate(995.4 681.4) scale(1 1.035)" font-size="28.8" fill="#000">Punto 9</text>
<path d="M1 2h1250v2h-1250zM1 321h1250v2h-1250zM1 384h1250v2h-1250zM1 638h1250v2h-1250zM1 701h1250v2h-1250zM1 2h2v701h-2zM398 2h2v701h-2zM843 2h2v701h-2zM1249 2h2v701h-2z" fill="#000" shape-rendering="crispEdges"/>
</g>
</svg>
</body></html>
